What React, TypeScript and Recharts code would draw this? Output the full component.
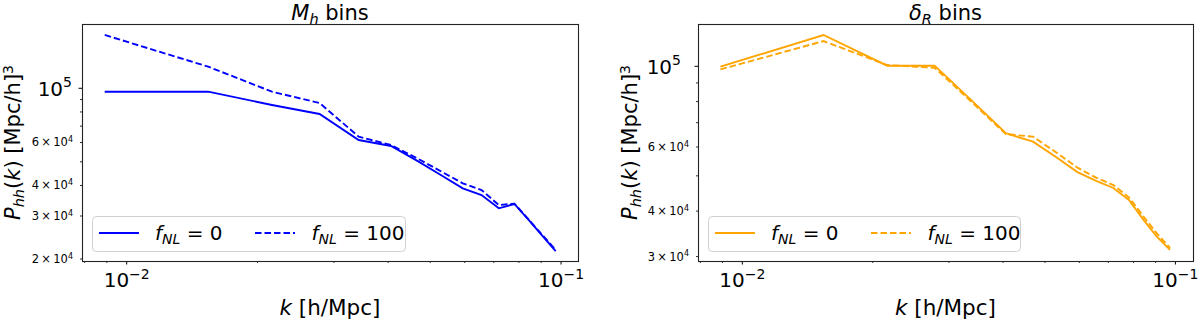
import React from 'react';
import { LineChart, Line, XAxis, YAxis } from 'recharts';

const kValues = [0.0089, 0.0154, 0.0216, 0.0278, 0.0342, 0.0406, 0.0469, 0.0531, 0.0594, 0.0656, 0.0719, 0.0781, 0.0844, 0.0906, 0.0972];
const massFnl0 = [96850, 96850, 85450, 78500, 61420, 58030, 50200, 43950, 38960, 36560, 32260, 33600, 28800, 24890, 21570];
const massFnl100 = [165300, 122600, 96850, 87040, 63370, 58600, 51400, 45540, 40830, 38340, 33270, 33700, 28900, 25070, 21780];
const deltaFnl0 = [99750, 121900, 100400, 100400, 79600, 65460, 62080, 56230, 51200, 48420, 46310, 42920, 37830, 34020, 31300];
const deltaFnl100 = [98100, 117300, 100800, 99100, 78900, 65080, 64070, 57940, 52640, 49430, 47150, 43650, 38630, 34750, 31700];

const xTicks = [0.008, 0.009, 0.01, 0.02, 0.03, 0.04, 0.05, 0.06, 0.07, 0.08, 0.09, 0.1];
const massYTicks = [20000, 30000, 40000, 50000, 60000, 70000, 80000, 90000, 100000];
const deltaYTicks = [30000, 40000, 50000, 60000, 70000, 80000, 90000, 100000];
const massYLabeled = [20000, 30000, 40000, 60000, 100000];
const deltaYLabeled = [30000, 40000, 60000, 100000];

const FONT = 'DejaVu Sans';

const buildTable = (a: number[], b: number[]) => kValues.map((k, i) => ({ k, p0: a[i], p100: b[i] }));

const isMajor = (v: number) => Math.abs(Math.log10(v) - Math.round(Math.log10(v))) < 1e-6;

const XTick = (props: any) => {
  const { x, y, payload } = props;
  const v = payload.value;
  const major = isMajor(v);
  const exp = Math.round(Math.log10(v));
  return (
    <g>
      <line x1={x} x2={x} y1={y} y2={y + (major ? 3.5 : 2)} stroke="#000" strokeWidth={major ? 1 : 0.8} />
      {major && (
        <text x={x} y={y + 26.3} textAnchor="middle" fontSize={20} fontFamily={FONT} fill="#000">
          10<tspan dy={-8.5} fontSize={14}>{'\u2212' + Math.abs(exp)}</tspan>
        </text>
      )}
    </g>
  );
};

const makeYTick = (labeled: number[], majorGap: number) => (props: any) => {
  const { x, y, payload } = props;
  const v = payload.value;
  const major = isMajor(v);
  const show = labeled.includes(v);
  const exp = Math.floor(Math.log10(v) + 1e-9);
  const mant = Math.round(v / Math.pow(10, exp));
  return (
    <g>
      <line x1={x - (major ? 3.5 : 2)} x2={x} y1={y} y2={y} stroke="#000" strokeWidth={major ? 1 : 0.8} />
      {show && major && (
        <text x={x - majorGap} y={y + 7.3} textAnchor="end" fontSize={20} fontFamily={FONT} fill="#000">
          10<tspan dy={-8.5} fontSize={14}>{exp}</tspan>
        </text>
      )}
      {show && !major && (
        <text x={x - 9} y={y + 4} textAnchor="end" fontSize={11.5} fontFamily={FONT} fill="#000">
          {mant + '\u2009\u00d7\u200910'}<tspan dy={-4.5} fontSize={8}>{exp}</tspan>
        </text>
      )}
    </g>
  );
};

type PanelProps = {
  left: number;
  plotLeft: number;
  plotRight: number;
  data: { k: number; p0: number; p100: number }[];
  color: string;
  xDomain: [number, number];
  yDomain: [number, number];
  yTicks: number[];
  yLabeled: number[];
  majorGap: number;
};

const PLOT_TOP = 24;
const PLOT_BOTTOM = 261;
const H = 319;

const Panel = ({ left, plotLeft, plotRight, data, color, xDomain, yDomain, yTicks, yLabeled, majorGap }: PanelProps) => {
  const W = 600;
  const YW = 60;
  const XH = 30;
  const margin = {
    top: PLOT_TOP,
    left: plotLeft - left - YW,
    right: W - (plotRight - left),
    bottom: H - PLOT_BOTTOM - XH,
  };
  const YTick = makeYTick(yLabeled, majorGap);
  return (
    <div style={{ position: 'absolute', left, top: 0 }}>
      <LineChart width={W} height={H} data={data} margin={margin}>
        <XAxis
          dataKey="k"
          type="number"
          scale="log"
          domain={xDomain}
          allowDataOverflow
          ticks={xTicks}
          interval={0}
          tick={<XTick />}
          tickLine={false}
          tickSize={0}
          tickMargin={0}
          axisLine={false}
          height={XH}
        />
        <YAxis
          type="number"
          scale="log"
          domain={yDomain}
          allowDataOverflow
          ticks={yTicks}
          interval={0}
          tick={<YTick />}
          tickLine={false}
          tickSize={0}
          tickMargin={0}
          axisLine={false}
          width={YW}
        />
        <Line type="linear" dataKey="p0" stroke={color} strokeWidth={1.9} dot={false} isAnimationActive={false} />
        <Line type="linear" dataKey="p100" stroke={color} strokeWidth={1.9} strokeDasharray="6.5 3" dot={false} isAnimationActive={false} />
      </LineChart>
    </div>
  );
};

const FnlLabel = ({ x, y, value }: { x: number; y: number; value: string }) => (
  <text x={x} y={y} fontSize={20} fontFamily={FONT} fill="#000">
    <tspan fontStyle="italic">f</tspan>
    <tspan fontStyle="italic" fontSize={14} dy={4}>NL</tspan>
    <tspan dy={-4}>{' = ' + value}</tspan>
  </text>
);

const LegendBox = ({ x0, x1, color }: { x0: number; x1: number; color: string }) => (
  <g>
    <rect x={x0 + 0.5} y={216.5} width={x1 - x0} height={35} rx={4} fill="#fff" fillOpacity={0.8} stroke="#d0d0d0" strokeWidth={1} />
    <line x1={x0 + 7} x2={x0 + 47} y1={233} y2={233} stroke={color} strokeWidth={1.9} />
    <FnlLabel x={x0 + 63} y={240} value="0" />
    <line x1={x0 + 163} x2={x0 + 203} y1={233} y2={233} stroke={color} strokeWidth={1.9} strokeDasharray="6.5 3" />
    <FnlLabel x={x0 + 219.5} y={240} value="100" />
  </g>
);

const YLabel = ({ x }: { x: number }) => (
  <text transform={`translate(${x},142.5) rotate(-90)`} textAnchor="middle" fontSize={21} fontFamily={FONT} fill="#000">
    <tspan fontStyle="italic">P</tspan>
    <tspan fontStyle="italic" fontSize={14.5} dy={4}>hh</tspan>
    <tspan dy={-4}>(</tspan>
    <tspan fontStyle="italic">k</tspan>
    <tspan>) [Mpc/h]</tspan>
    <tspan fontSize={14} dy={-7}>3</tspan>
  </text>
);

const XLabel = ({ x }: { x: number }) => (
  <text x={x} y={315} textAnchor="middle" fontSize={21.5} fontFamily={FONT} fill="#000">
    <tspan fontStyle="italic">k</tspan>
    <tspan> [h/Mpc]</tspan>
  </text>
);

const Title = ({ x, sym, sub }: { x: number; sym: string; sub: string }) => (
  <text x={x} y={19.5} textAnchor="middle" fontSize={21} fontFamily={FONT} fill="#000">
    <tspan fontStyle="italic">{sym}</tspan>
    <tspan fontStyle="italic" fontSize={14.5} dy={4}>{sub}</tspan>
    <tspan dy={-4}> bins</tspan>
  </text>
);

export default function App() {
  const L = { pl: 82, pr: 578 };
  const R = { pl: 698, pr: 1193 };
  return (
    <div style={{ position: 'absolute', left: 0, top: 0, width: 1200, height: H, background: '#fff', overflow: 'hidden' }}>
      <Panel
        left={0}
        plotLeft={L.pl}
        plotRight={L.pr}
        data={buildTable(massFnl0, massFnl100)}
        color="#0000ff"
        xDomain={[0.00789, 0.1094]}
        yDomain={[19630, 183300]}
        yTicks={massYTicks}
        yLabeled={massYLabeled}
        majorGap={10}
      />
      <Panel
        left={600}
        plotLeft={R.pl}
        plotRight={R.pr}
        data={buildTable(deltaFnl0, deltaFnl100)}
        color="#ffa500"
        xDomain={[0.0079, 0.1098]}
        yDomain={[29170, 130700]}
        yTicks={deltaYTicks}
        yLabeled={deltaYLabeled}
        majorGap={17}
      />
      <svg width={1200} height={H} style={{ position: 'absolute', left: 0, top: 0, pointerEvents: 'none' }}>
        <rect x={L.pl + 0.5} y={PLOT_TOP + 0.5} width={L.pr - L.pl} height={PLOT_BOTTOM - PLOT_TOP} fill="none" stroke="#222" strokeWidth={1.1} />
        <rect x={R.pl + 0.5} y={PLOT_TOP + 0.5} width={R.pr - R.pl} height={PLOT_BOTTOM - PLOT_TOP} fill="none" stroke="#222" strokeWidth={1.1} />
        <Title x={(L.pl + L.pr) / 2} sym="M" sub="h" />
        <Title x={(R.pl + R.pr) / 2} sym="δ" sub="R" />
        <YLabel x={20} />
        <YLabel x={637} />
        <XLabel x={(L.pl + L.pr) / 2} />
        <XLabel x={(R.pl + R.pr) / 2} />
        <LegendBox x0={92} x1={405} color="#0000ff" />
        <LegendBox x0={708} x1={1020} color="#ffa500" />
      </svg>
    </div>
  );
}
